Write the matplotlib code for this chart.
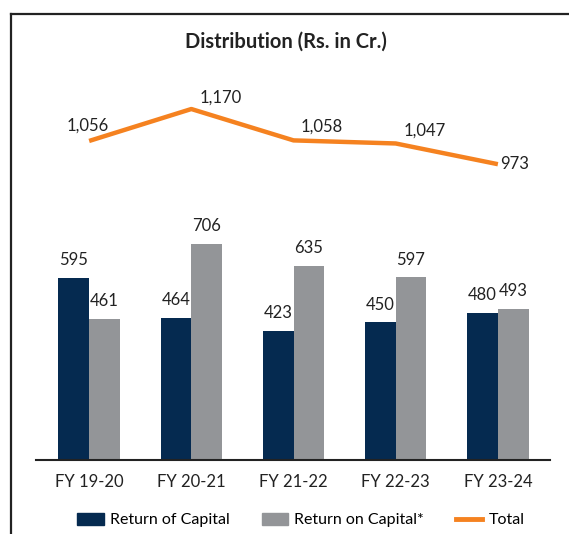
import matplotlib

matplotlib.use("Agg")
import matplotlib.pyplot as plt
import numpy as np
from matplotlib.lines import Line2D
from matplotlib.patches import Patch

years = ["FY 19-20", "FY 20-21", "FY 21-22", "FY 22-23", "FY 23-24"]
return_of_capital = [595, 464, 423, 450, 480]
return_on_capital = [461, 706, 635, 597, 493]
total = [1056, 1170, 1058, 1047, 973]
total_offsets = [(-1, 11), (21, 8), (20, 10), (21, 9.5), (12, 0)]

NAVY = "#052a50"
GRAY = "#939598"
ORANGE = "#f58220"
W, H = 569, 534

plt.rcParams.update({"font.family": ["Lato", "DejaVu Sans"]})

fig = plt.figure(figsize=(W / 100, H / 100), dpi=100)
ax = fig.add_axes([36 / W, (H - 460) / H, (550 - 36) / W, (460 - 60) / H])

x = np.arange(len(years))
bw = 0.3
b1 = ax.bar(x - bw / 2, return_of_capital, bw, color=NAVY, zorder=2)
b2 = ax.bar(x + bw / 2, return_on_capital, bw, color=GRAY, zorder=2)
for bars in (b1, b2):
    for rect in bars:
        ax.annotate(f"{rect.get_height():,.0f}",
                    (rect.get_x() + rect.get_width() / 2, rect.get_height()),
                    xytext=(0, 7), textcoords="offset points",
                    ha="center", va="bottom", fontsize=12, color="#222222")

ax.set_xlim(-0.52, 4.51)
ax.set_ylim(0, 1307)
ax.set_yticks([])
for side in ("left", "right", "top"):
    ax.spines[side].set_visible(False)
ax.spines["bottom"].set_color("#222222")
ax.spines["bottom"].set_linewidth(1.5)
ax.set_xticks(x, years)
ax.tick_params(axis="x", length=0, pad=10, labelsize=12, labelcolor="#222222")

ax2 = ax.twinx()
ax2.plot(x, total, color=ORANGE, linewidth=3.2, solid_capstyle="butt", zorder=3)
ax2.set_ylim(-83, 1345)
ax2.set_yticks([])
ax2.set_xlim(ax.get_xlim())
for side in ("left", "right", "top", "bottom"):
    ax2.spines[side].set_visible(False)
for xi, v, off in zip(x, total, total_offsets):
    ax2.annotate(f"{v:,}", (xi, v), xytext=off, textcoords="offset points",
                 ha="center", va="center", fontsize=12, color="#222222")

fig.text(286 / W, 1 - 42 / H, "Distribution (Rs. in Cr.)", ha="center",
         va="center", fontsize=14.5, fontweight="bold", color="#222222")

# outer frame (left and top edges, right runs off the picture)
fig.add_artist(Line2D([11 / W, 11 / W], [0, 1 - 14 / H], color="#222222",
                      linewidth=1.6, transform=fig.transFigure))
fig.add_artist(Line2D([11 / W, 1], [1 - 14 / H, 1 - 14 / H], color="#222222",
                      linewidth=1.6, transform=fig.transFigure))

handles = [Patch(color=NAVY), Patch(color=GRAY),
           Line2D([0], [0], color=ORANGE, linewidth=3.5)]
fig.legend(handles, ["Return of Capital", "Return on Capital*", "Total"],
           loc="center", bbox_to_anchor=(301 / W, 1 - 520 / H), ncol=3,
           frameon=False, fontsize=11.5, handlelength=1.65, handleheight=0.8,
           columnspacing=2.0, handletextpad=0.4)

fig.savefig("out.png", dpi=100)
